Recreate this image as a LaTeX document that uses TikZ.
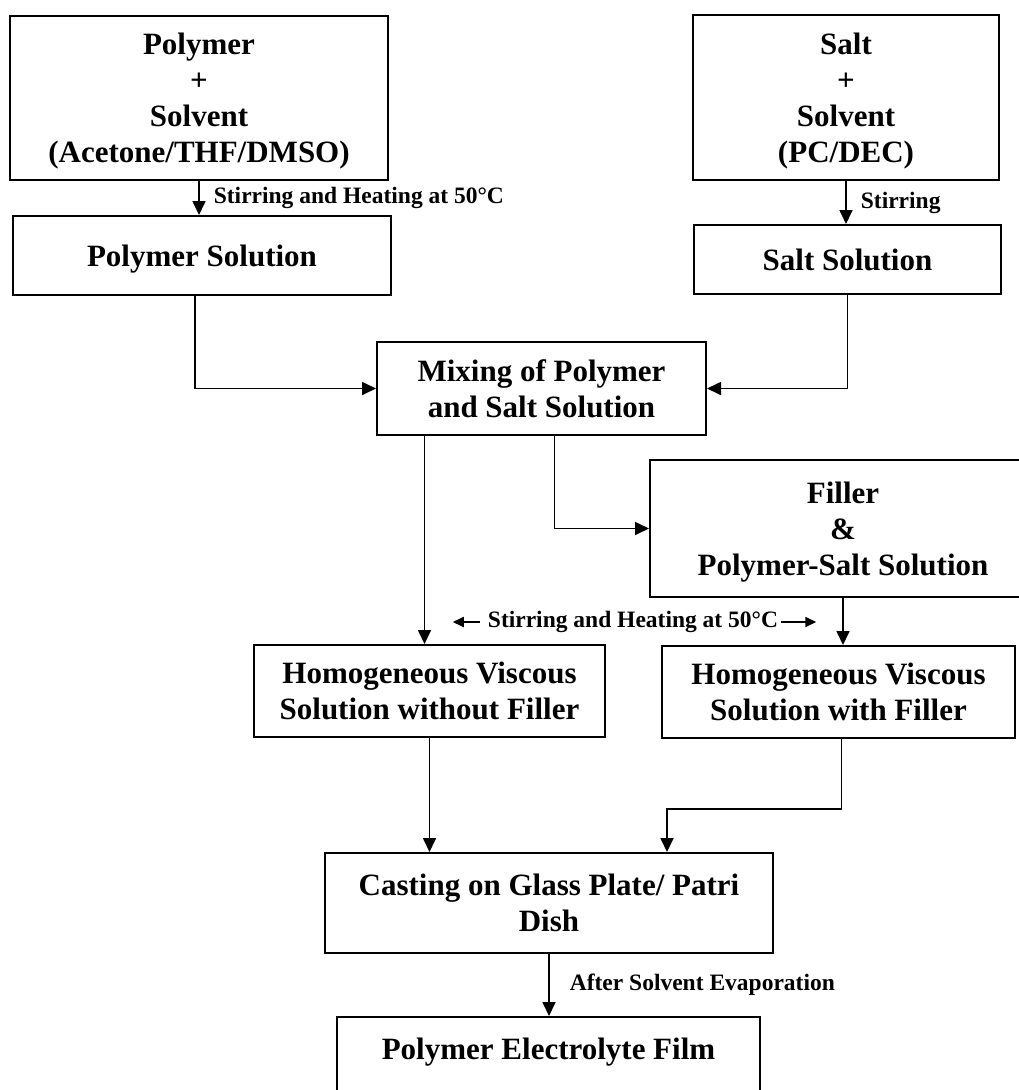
\documentclass[tikz,border=0pt]{standalone}
\usepackage{fontspec}
\setmainfont{Liberation Serif}
\usetikzlibrary{arrows.meta}

\begin{document}
\begin{tikzpicture}[x=1pt, y=-1pt,
    stage/.style ={draw, line width=2pt, align=center, inner sep=0pt, text depth=0pt,
      font=\bfseries\fontsize{31}{36}\selectfont},
    flow/.style ={line width=1.7pt, -{Triangle[length=14pt, width=13pt]}},
    side/.style ={line width=1.7pt, -{Triangle[length=11pt, width=10pt]}},
    note/.style ={inner sep=0pt, font=\bfseries\fontsize{23.5}{27}\selectfont}]
   \useasboundingbox (0,0) rectangle (1019,1090);
   \node[stage, minimum width=378pt, minimum height=164pt] (polymer) at (199,98) {Polymer\\+\\Solvent\\(Acetone/THF/DMSO)};
   \node[stage, minimum width=306pt, minimum height=165pt] (salt) at (846,97.5) {Salt\\+\\Solvent\\(PC/DEC)};
   \node[stage, minimum width=378pt, minimum height=79pt] (polysol) at (202,255.5) {Polymer Solution};
   \node[stage, minimum width=307pt, minimum height=69pt] (saltsol) at (847.5,259.5) {Salt Solution};
   \node[stage, minimum width=329pt, minimum height=93pt] (mixing) at (541.5,388.5) {Mixing of Polymer\\and Salt Solution};
   \node[stage, minimum width=386pt, minimum height=137pt] (filler) at (843,528.5) {Filler\\\&\\Polymer-Salt Solution};
   \node[stage, minimum width=351pt, minimum height=92pt] (nofiller) at (429.5,691) {Homogeneous Viscous\\Solution without Filler};
   \node[stage, minimum width=353pt, minimum height=92pt] (withfiller) at (838.5,692) {Homogeneous Viscous\\Solution with Filler};
   \node[stage, minimum width=448pt, minimum height=100pt] (casting) at (549,903) {Casting on Glass Plate/ Patri\\Dish};
   \node[stage, minimum width=423pt, minimum height=100pt] (film) at (548.5,1067) {Polymer Electrolyte Film\\~};
   \node[note] (heating) at (633,622) {Stirring and Heating at 50°C};
   \draw[flow] (polymer.south) -- (polymer.south |- polysol.north)
      node[note, midway, anchor=west, xshift=14pt] {Stirring and Heating at 50°C};
   \draw[flow] (salt.south) -- (salt.south |- saltsol.north)
      node[note, midway, anchor=west, xshift=14pt] {Stirring};
   \draw[flow] ([xshift=-7pt]polysol.south) |- (mixing.west);
   \draw[flow] (saltsol.south) |- (mixing.east);
   \draw[flow] ([xshift=-5pt]nofiller.north |- mixing.south) -- ([xshift=-5pt]nofiller.north);
   \draw[flow] ([xshift=13pt]mixing.south) |- (filler.west);
   \draw[flow] (filler.south) -- (filler.south |- withfiller.north);
   \draw[side] ([xshift=-8pt]heating.west) -- ++(-27,0);
   \draw[side] ([xshift=3pt]heating.east) -- ++(35,0);
   \draw[flow] (nofiller.south) -- (nofiller.south |- casting.north);
   \draw[flow] ([xshift=3pt]withfiller.south) -- ++(0,70) -| ([xshift=118pt]casting.north);
   \draw[flow] (casting.south) -- (casting.south |- film.north)
      node[note, midway, anchor=west, xshift=20pt] {After Solvent Evaporation};
 \end{tikzpicture}
\end{document}
